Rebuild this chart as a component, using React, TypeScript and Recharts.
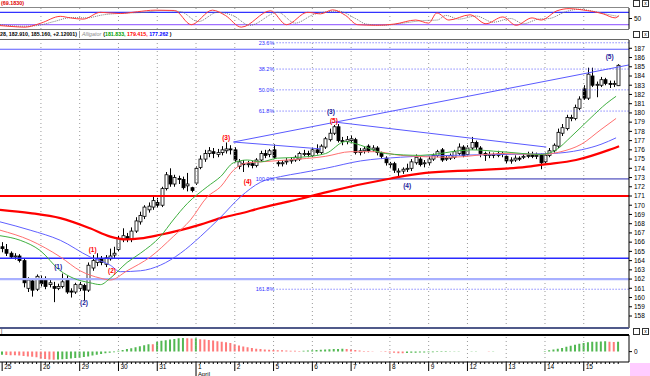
import React from "react";
import {
  ComposedChart,
  LineChart,
  Line,
  Bar,
  Cell,
  XAxis,
  YAxis,
  ReferenceLine,
  ReferenceDot,
} from "recharts";

// ---- data ----

const DAY_LABELS = ["25", "26", "29", "30", "31", "1", "2", "5", "6", "7", "8", "9", "12", "13", "14", "15"];
const MONTH_LABELS = ["", "", "", "", "", "April", "", "", "", "", "", "", "", "", "", ""];
const BARS_PER_DAY = 9;

// [open, high, low, close], 9 bars per day
const CANDLES: number[][] = [
  // 25
  [165.5, 166.0, 164.9, 165.3], [165.2, 165.8, 164.5, 164.8], [164.8, 165.0, 164.2, 164.4],
  [164.4, 164.8, 164.1, 164.5], [164.5, 164.7, 163.8, 164.0], [164.0, 164.2, 161.1, 161.6],
  [161.0, 162.2, 160.6, 161.9], [161.8, 162.0, 160.1, 160.8], [160.9, 162.5, 160.7, 162.3],
  // 26
  [162.0, 162.4, 161.2, 161.5], [162.0, 162.3, 160.9, 161.2], [161.4, 161.9, 161.1, 161.6],
  [161.2, 161.7, 159.5, 161.0], [161.0, 161.5, 160.8, 161.2], [161.2, 162.6, 161.0, 161.7],
  [161.9, 162.4, 160.4, 160.6], [160.7, 161.0, 160.0, 160.6], [160.6, 161.6, 160.4, 161.4],
  // 29
  [161.0, 161.7, 160.7, 161.4], [161.3, 161.5, 159.7, 160.8], [160.8, 163.8, 160.6, 163.5],
  [163.2, 164.6, 162.9, 164.0], [163.8, 164.8, 163.4, 164.2], [164.2, 164.5, 163.5, 163.8],
  [163.6, 164.6, 163.3, 164.3], [164.2, 165.3, 164.0, 164.5], [164.6, 165.5, 164.3, 164.8],
  // 30
  [165.2, 166.7, 165.0, 166.4], [166.3, 167.5, 166.0, 166.7], [166.6, 167.0, 166.0, 166.3],
  [166.3, 167.6, 166.0, 167.2], [167.2, 168.7, 167.0, 168.3], [168.2, 169.3, 167.9, 168.9],
  [168.8, 170.0, 168.5, 169.8], [169.5, 170.3, 169.2, 169.9], [169.8, 171.0, 169.5, 170.5],
  // 31
  [170.3, 170.8, 169.7, 170.0], [170.0, 172.0, 169.8, 171.8], [171.8, 173.6, 171.6, 173.3],
  [173.2, 174.0, 172.0, 172.3], [172.3, 173.3, 172.0, 173.0], [172.9, 173.2, 172.3, 172.8],
  [172.8, 173.1, 171.7, 171.9], [172.1, 173.5, 171.5, 172.3], [171.9, 172.0, 171.4, 171.6],
  // 1 April
  [172.4, 174.2, 172.2, 174.0], [174.1, 175.4, 173.9, 175.0], [175.0, 176.0, 174.7, 175.6],
  [175.6, 176.3, 175.2, 175.9], [175.8, 176.2, 175.1, 175.6], [175.5, 176.1, 175.2, 175.7],
  [175.7, 176.4, 175.4, 176.0], [175.9, 176.8, 175.6, 176.1], [176.1, 176.5, 175.5, 176.0],
  // 2
  [176.0, 176.3, 174.7, 174.9], [174.2, 175.0, 173.9, 174.7], [174.5, 174.9, 173.6, 174.4],
  [174.4, 174.8, 174.1, 174.5], [174.5, 174.8, 174.0, 174.3], [174.3, 175.1, 174.1, 174.9],
  [174.9, 175.9, 174.7, 175.6], [175.6, 176.0, 175.1, 175.4], [175.5, 176.1, 175.2, 175.9],
  // 5
  [176.0, 176.6, 175.0, 175.2], [174.6, 174.9, 174.2, 174.5], [174.5, 174.9, 174.2, 174.6],
  [174.7, 175.1, 174.4, 174.8], [174.8, 175.2, 174.5, 174.9], [174.9, 175.4, 174.7, 175.2],
  [175.0, 175.8, 174.8, 175.6], [175.5, 176.0, 175.3, 175.6], [175.6, 175.9, 175.2, 175.5],
  // 6
  [175.4, 176.3, 175.2, 176.0], [176.0, 176.6, 175.5, 175.7], [175.7, 176.6, 175.5, 176.4],
  [176.3, 177.4, 176.1, 177.2], [177.1, 178.3, 176.9, 177.8], [177.8, 178.7, 177.6, 178.5],
  [178.5, 178.8, 176.8, 177.0], [177.0, 177.4, 176.5, 176.9], [176.9, 177.5, 176.6, 177.1],
  // 7
  [177.0, 177.6, 176.7, 177.2], [177.1, 177.3, 175.5, 175.7], [175.7, 176.2, 175.4, 175.9],
  [175.9, 176.4, 175.6, 176.1], [176.4, 176.6, 175.7, 175.9], [176.0, 176.5, 175.8, 176.2],
  [176.2, 176.4, 175.4, 175.7], [175.6, 175.8, 175.0, 175.3], [175.1, 175.3, 174.3, 174.6],
  // 8
  [174.4, 174.7, 174.0, 174.5], [174.5, 174.7, 173.5, 173.8], [173.6, 174.0, 173.1, 173.7],
  [173.7, 174.1, 173.4, 173.9], [173.9, 174.5, 173.6, 174.0], [174.0, 175.0, 173.7, 174.7],
  [174.6, 175.5, 174.4, 175.2], [175.0, 175.2, 174.2, 174.4], [174.5, 174.9, 174.1, 174.6],
  // 9
  [174.6, 175.3, 174.3, 175.0], [175.0, 175.6, 174.8, 175.4], [175.4, 176.0, 175.2, 175.8],
  [176.0, 176.2, 174.7, 174.9], [175.0, 175.4, 174.8, 175.1], [175.1, 175.6, 174.9, 175.4],
  [175.2, 176.0, 175.0, 175.8], [175.6, 176.7, 175.4, 176.3], [176.3, 176.5, 175.2, 175.4],
  // 12
  [175.5, 176.5, 175.3, 176.2], [176.2, 177.4, 176.0, 176.8], [176.8, 177.0, 176.0, 176.3],
  [176.2, 176.4, 175.2, 175.6], [175.6, 175.8, 174.8, 175.4], [175.4, 175.8, 175.1, 175.5],
  [175.5, 175.7, 175.1, 175.4], [175.4, 175.9, 175.2, 175.6], [175.6, 175.8, 175.2, 175.5],
  // 13
  [175.3, 175.5, 174.5, 174.8], [174.8, 175.2, 174.5, 174.9], [174.9, 175.4, 174.7, 175.1],
  [175.1, 175.3, 174.8, 175.0], [175.2, 175.6, 175.0, 175.3], [175.3, 175.8, 175.1, 175.4],
  [175.4, 175.8, 175.1, 175.3], [175.3, 175.7, 175.0, 175.4], [175.4, 175.6, 173.9, 174.6],
  // 14
  [174.7, 175.7, 174.5, 175.4], [175.4, 176.2, 175.2, 175.9], [175.9, 176.7, 175.7, 176.5],
  [176.4, 178.3, 176.2, 177.9], [177.8, 178.8, 177.5, 178.4], [178.3, 179.8, 178.1, 179.5],
  [179.4, 179.8, 179.1, 179.5], [179.4, 180.9, 179.2, 180.6], [180.5, 181.8, 180.3, 181.5],
  // 15
  [182.6, 183.0, 181.4, 181.6], [181.6, 184.9, 181.4, 184.2], [184.0, 184.9, 182.8, 183.0],
  [183.0, 183.4, 181.7, 183.1], [183.0, 183.9, 182.8, 183.6], [183.6, 183.8, 183.0, 183.2],
  [183.2, 183.5, 182.7, 183.1], [183.1, 183.5, 182.8, 183.2], [182.95, 185.28, 182.91, 185.16],
];

// moving averages: [bar, price]
const LIPS = [
  [-0.5, 166.7], [4.2, 166.2], [8.8, 165.1], [13.5, 162.9], [16.5, 162.1], [20.4, 161.6],
  [22.8, 161.4], [25.1, 162.1], [29, 163.8], [32.1, 164.8], [36.7, 166.6], [39.7, 168.4],
  [43, 170.2], [47.6, 172.0], [50.7, 173.1], [53.7, 174.6], [56.9, 174.9], [60, 174.7],
  [63.9, 175.1], [69.3, 175.2], [75.1, 175.6], [79.7, 176.9], [83.2, 176.5], [89, 175.6],
  [97.2, 175.4], [108.8, 176.0], [115.8, 175.8], [125.1, 175.5], [128.6, 176.0],
  [132, 177.4], [136.7, 179.5], [140.2, 181.0], [142.5, 181.8],
];
const TEETH = [
  [-0.5, 167.3], [6.5, 166.2], [13.5, 164.4], [18.1, 162.9], [22.8, 162.1], [25.1, 161.9],
  [29, 162.9], [34.4, 164.4], [39.7, 166.6], [43.7, 168.4], [47.6, 170.9], [50.7, 172.0],
  [53.7, 173.8], [56.9, 174.6], [60, 174.7], [66.2, 174.9], [75.1, 175.3], [80.9, 175.8],
  [86.7, 175.8], [92.5, 175.4], [104.2, 175.2], [115.8, 175.6], [125.1, 175.5],
  [129.7, 175.8], [134.4, 176.6], [139, 178.2], [142.5, 179.4],
];
const JAW = [
  [-0.5, 168.2], [6.5, 167.3], [13.5, 166.2], [20.4, 164.4], [25.1, 163.5], [27.4, 162.8],
  [32.1, 162.9], [36.7, 163.5], [41.4, 164.8], [46, 166.6], [50.7, 168.7], [55.3, 170.9],
  [60, 172.5], [64.6, 173.1], [69.3, 173.5], [75.1, 174.0], [83.2, 174.8], [92.5, 175.2],
  [104.2, 175.4], [115.8, 175.5], [127.4, 175.6], [134.4, 176.0], [139, 176.6], [142.5, 177.3],
];
const SLOW_MA = [
  [-0.5, 169.5], [6.5, 169.15], [13.5, 168.6], [20.4, 167.5], [25.1, 166.6], [28.6, 166.3],
  [32.1, 166.4], [36.7, 166.8], [41.4, 167.3], [46, 167.9], [50.7, 168.6], [55.3, 169.1],
  [60, 169.7], [64.6, 170.2], [69.3, 170.7], [75.1, 171.4], [90.2, 172.9], [98.3, 173.5],
  [110, 173.8], [121.6, 174.15], [125.5, 174.4], [133.2, 174.9], [140.9, 176.0], [143.2, 176.4],
];

// oscillator (top pane): [bar, value]
const OSC_FAST = [
  [-0.5, 27], [2.3, 24], [5.3, 22], [9, 35], [13.5, 57], [15.8, 52], [18.8, 48], [22.8, 70],
  [27.4, 66], [31.4, 72], [35.5, 77], [40, 76], [43.9, 30], [48.8, 77], [51.8, 60], [55.5, 22],
  [62.3, 75], [66, 30], [70.9, 70], [73.9, 65], [76.7, 78], [79.7, 60], [82.5, 30], [86.7, 28],
  [91.1, 32], [96, 45], [99, 35], [100.9, 68], [103.7, 45], [108.6, 62], [112.3, 33],
  [116.2, 55], [119.3, 28], [123, 52], [125.1, 45], [128.8, 75], [131.6, 82], [134.6, 78],
  [139.5, 65], [142.3, 52], [143.2, 60],
];
const OSC_SLOW = [
  [-0.5, 30], [4.5, 25], [8, 27], [12, 40], [16, 53], [19.5, 52], [23.5, 62], [28, 67],
  [33, 70], [37, 76], [41.5, 72], [45.5, 40], [50, 70], [53.5, 60], [57.5, 28], [64, 70],
  [68, 35], [72.5, 64], [78, 74], [82, 50], [84.5, 32], [88.5, 28], [93, 35], [97.5, 43],
  [101, 45], [103, 60], [106, 48], [110, 58], [114, 38], [118, 50], [121, 33], [124.5, 48],
  [127, 50], [131, 73], [134, 80], [137, 74], [141, 62], [143.2, 56],
];

// histogram (bottom pane), one value per bar
const AO = [
  -3.0, -3.2, -3.5, -3.6, -3.8, -4.2, -4.6, -5.0, -5.4,
  -6.8, -7.2, -7.6, -7.8, -7.6, -7.3, -7.0, -6.6, -6.2,
  -5.8, -5.2, -4.6, -3.8, -3.0, -2.2, -1.6, -1.0, -0.6,
  0.8, 1.6, 2.4, 3.2, 4.2, 5.2, 6.2, 7.2, 7.0,
  9.6, 10.4, 11.0, 11.6, 12.2, 12.8, 13.0, 12.8, 12.6,
  12.9, 12.0, 11.6, 11.2, 10.6, 10.0, 9.6, 9.0, 8.2,
  7.0, 6.0, 5.0, 4.2, 3.4, 2.8, 2.4, 2.0, 1.8,
  1.6, 1.4, 1.2, 1.0, 0.9, 0.8, 0.7, 0.8, 1.0,
  1.2, 1.5, 1.8, 2.0, 2.2, 2.4, 2.6, 2.8, 2.6,
  2.0, 1.5, 1.0, 0.7, 0.5, 0.3, 0.1, -0.1, -0.3,
  -0.8, -1.2, -1.5, -1.6, -1.4, -1.2, -1.0, -0.9, -0.8,
  -0.6, -0.5, -0.4, -0.3, -0.3, -0.2, -0.2, -0.1, 0.1,
  0.2, 0.3, 0.3, 0.2, 0.1, -0.1, -0.1, 0.1, 0.2,
  0.1, 0.1, 0.2, 0.1, 0.1, 0.2, 0.1, 0.2, 0.1,
  0.6, 1.2, 2.0, 2.8, 3.6, 4.6, 5.6, 6.6, 7.6,
  8.4, 9.0, 9.4, 9.6, 9.8, 10.0, 9.5, 9.3, 9.6,
];

const PRICE_TICKS = [158, 159, 160, 161, 162, 163, 164, 165, 166, 167, 168, 169, 170, 171, 172,
  173, 174, 175, 176, 177, 178, 179, 180, 181, 182, 183, 184, 185, 186, 187];

const FIB_LEVELS = [187.6, 184.75, 182.5, 180.2, 172.85, 160.9];
const FIB_LABELS = ["23.6%", "38.2%", "50.0%", "61.8%", "100.0%", "161.8%"];

const SUPPORT_RED = 171.0;
const SUPPORT_BLUE = 164.25;
const SUPPORT_LIGHT = 162.0;
const TOP_BLUE = 186.9;

// wave counts
const WAVES = [
  { text: "(1)", bar: 13, price: 163.3, major: true },
  { text: "(2)", bar: 19, price: 159.4, major: true },
  { text: "(1)", bar: 21, price: 165.15, major: false },
  { text: "(2)", bar: 25.5, price: 162.9, major: false },
  { text: "(3)", bar: 52, price: 177.3, major: false },
  { text: "(4)", bar: 57, price: 172.5, major: false },
  { text: "(3)", bar: 76.3, price: 180.1, major: true },
  { text: "(5)", bar: 77, price: 179.2, major: false },
  { text: "(4)", bar: 94, price: 172.1, major: true },
  { text: "(5)", bar: 141, price: 186.05, major: true },
];

// trend lines: [bar1, price1, bar2, price2]
const TRENDS = [
  [53.7, 176.85, 145.5, 185.2],
  [53.7, 176.85, 74, 176.1],
  [77.4, 179.0, 126.3, 176.3],
];

// ---- layout ----
const FONT = "'Liberation Sans', Arial, sans-serif";
const X_DOMAIN: [number, number] = [-0.5, 145.5];
const DAY_STARTS = DAY_LABELS.map((_, d) => d * BARS_PER_DAY);
const FIB_START = 63.7;

const candleData = CANDLES.map(([o, h, l, c], i) => ({ i, range: [l, h], ohlc: [o, h, l, c] }));
const pts = (arr: number[][]) => arr.map(([i, v]) => ({ i, v }));
const aoData = AO.map((v, i) => ({ i, v }));

const Candle = (props: any) => {
  const { x, y, width, height, payload } = props;
  if (!payload) return null;
  const [o, h, l, c] = payload.ohlc;
  const top = Math.min(y, y + height);
  const hh = Math.abs(height);
  const k = hh / (h - l);
  const yO = top + (h - o) * k;
  const yC = top + (h - c) * k;
  const cx = Math.round(x + width / 2) + 0.5;
  const bTop = Math.min(yO, yC);
  const bH = Math.max(1, Math.abs(yO - yC));
  const up = c >= o;
  return (
    <g>
      <line x1={cx} x2={cx} y1={top} y2={top + hh} stroke="#000" strokeWidth={1} />
      <rect x={cx - 1.5} y={bTop} width={3} height={bH} fill={up ? "#fff" : "#000"} stroke="#000" strokeWidth={0.8} />
    </g>
  );
};

const DateTick = (props: any) => {
  const { x, y, payload } = props;
  const i = payload.value;
  if (i % BARS_PER_DAY === 0) {
    const d = i / BARS_PER_DAY;
    return (
      <g>
        <line x1={x} x2={x} y1={y} y2={y + 9} stroke="#000" strokeWidth={1} />
        <text x={x + 2} y={y + 7} fontSize={6.5} fontFamily={FONT} fill="#000">{DAY_LABELS[d]}</text>
        {MONTH_LABELS[d] && (
          <>
            <line x1={x} x2={x} y1={y + 9} y2={y + 14} stroke="#000" strokeWidth={1} />
            <text x={x + 2} y={y + 13.5} fontSize={6} fontFamily={FONT} fill="#000">{MONTH_LABELS[d]}</text>
          </>
        )}
      </g>
    );
  }
  return <line x1={x} x2={x} y1={y} y2={y + 2} stroke="#000" strokeWidth={1} />;
};

const abs = (top: number, left = 0): React.CSSProperties => ({ position: "absolute", top, left });

const Icons = ({ top }: { top: number }) => (
  <div style={{ ...abs(top, 633), display: "flex", gap: 2 }}>
    <div style={{ width: 5, height: 5, border: "1px solid #333", background: "#fff" }} />
    <div style={{ width: 5, height: 5, border: "1px solid #333", background: "#fff", fontSize: 5, lineHeight: "5px", textAlign: "center", fontFamily: FONT }}>x</div>
  </div>
);

const dayLines = (color = "#9a9a9a") =>
  DAY_STARTS.slice(1).map((d) => (
    <ReferenceLine key={"d" + d} x={d} stroke={color} strokeDasharray="1 3" />
  ));

export default function App() {
  const axisTick = { fontSize: 6.5, fill: "#000", fontFamily: FONT };
  return (
    <div style={{ position: "absolute", left: 0, top: 0, width: 650, height: 376, background: "#fff", overflow: "hidden", fontFamily: FONT }}>
      {/* top pane header */}
      <div style={{ ...abs(0, 1), fontSize: 5.4, fontWeight: 700, color: "#e00000", lineHeight: "7px" }}>(69.1830)</div>
      <Icons top={0} />
      <div style={{ ...abs(7, 0), width: 629, height: 1, background: "#888" }} />

      {/* oscillator pane */}
      <div style={abs(8, 0)}>
        <LineChart width={650} height={21} margin={{ top: 0, right: 0, bottom: 0, left: 0 }}>
          <XAxis type="number" dataKey="i" domain={X_DOMAIN} hide allowDataOverflow />
          <YAxis orientation="right" width={21} domain={[16, 84]} ticks={[50]} tick={axisTick}
            tickSize={3} tickMargin={2} axisLine={{ stroke: "#000" }} tickLine={{ stroke: "#000" }} />
          {dayLines()}
          <ReferenceLine y={70} stroke="#3333ff" strokeWidth={1.2} />
          <ReferenceLine y={30} stroke="#a070ff" strokeWidth={1.2} />
          <Line data={pts(OSC_SLOW)} dataKey="v" type="monotone" stroke="#777" strokeWidth={1}
            strokeDasharray="1 1" dot={false} isAnimationActive={false} />
          <Line data={pts(OSC_FAST)} dataKey="v" type="monotone" stroke="#ff3a3a" strokeWidth={1}
            dot={false} isAnimationActive={false} />
        </LineChart>
      </div>

      {/* main pane header */}
      <div style={{ ...abs(29, 0), width: 629, height: 1, background: "#777" }} />
      <div style={{ ...abs(31, 0), fontSize: 5.3, fontWeight: 700, lineHeight: "7px", whiteSpace: "nowrap", display: "flex" }}>
        <span style={{ color: "#000" }}>28, 182.910, 185.160, +2.12001)</span>
        <span style={{ width: 1, height: 7, background: "#999", margin: "0 2px" }} />
        <span style={{ color: "#888", fontStyle: "italic", fontWeight: 400 }}>Alligator</span>
        <span style={{ color: "#000", marginLeft: 2 }}>(</span>
        <span style={{ color: "#00a000" }}>181.833,&nbsp;</span>
        <span style={{ color: "#ff0000" }}>179.415,&nbsp;</span>
        <span style={{ color: "#0000ff" }}>177.262</span>
        <span style={{ color: "#000" }}>&nbsp;)</span>
      </div>
      <Icons top={31} />
      <div style={{ ...abs(39, 0), width: 629, height: 1, background: "#666" }} />

      {/* price pane */}
      <div style={abs(40, 0)}>
        <ComposedChart width={650} height={288} data={candleData} margin={{ top: 0, right: 0, bottom: 0, left: 0 }}>
          <XAxis type="number" dataKey="i" domain={X_DOMAIN} hide allowDataOverflow />
          <YAxis orientation="right" width={21} domain={[156.7, 187.9]} ticks={PRICE_TICKS}
            interval={0} tick={axisTick} tickSize={3} tickMargin={2} allowDataOverflow
            axisLine={{ stroke: "#000" }} tickLine={{ stroke: "#000" }} />
          {dayLines()}
          <ReferenceLine y={TOP_BLUE} stroke="#5a5aff" strokeWidth={1.2} />
          <ReferenceLine y={SUPPORT_RED} stroke="#ff0000" strokeWidth={2.2} />
          <ReferenceLine y={SUPPORT_BLUE} stroke="#2a2aff" strokeWidth={1.4} />
          <ReferenceLine y={SUPPORT_LIGHT} stroke="#a8b0ff" strokeWidth={2.2} />
          {FIB_LEVELS.map((lv, k) => (
            <ReferenceLine key={"f" + k}
              segment={[{ x: FIB_START, y: lv }, { x: X_DOMAIN[1], y: lv }]}
              stroke={FIB_LABELS[k] === "100.0%" ? "#2a2ab0" : "#5050ff"}
              strokeWidth={1}
              strokeDasharray={FIB_LABELS[k] === "100.0%" ? undefined : "1 2"} />
          ))}
          {FIB_LEVELS.map((lv, k) => (
            <ReferenceDot key={"fl" + k} x={FIB_START - 0.3} y={lv} r={0} stroke="none" fill="none"
              label={{ value: FIB_LABELS[k], position: "left", offset: 1, fontSize: 5.5, fill: "#3030ff", fontFamily: FONT }} />
          ))}
          {TRENDS.map(([x1, y1, x2, y2], k) => (
            <ReferenceLine key={"t" + k} segment={[{ x: x1, y: y1 }, { x: x2, y: y2 }]} stroke="#5a5aff" strokeWidth={1} />
          ))}
          <Line data={pts(SLOW_MA)} dataKey="v" type="monotone" stroke="#ff0000" strokeWidth={2.2}
            dot={false} isAnimationActive={false} />
          <Line data={pts(JAW)} dataKey="v" type="monotone" stroke="#6060ff" strokeWidth={1}
            dot={false} isAnimationActive={false} />
          <Line data={pts(TEETH)} dataKey="v" type="monotone" stroke="#ff7070" strokeWidth={1}
            dot={false} isAnimationActive={false} />
          <Line data={pts(LIPS)} dataKey="v" type="monotone" stroke="#40b040" strokeWidth={1}
            dot={false} isAnimationActive={false} />
          <Bar dataKey="range" barSize={3} shape={<Candle />} isAnimationActive={false} />
          {WAVES.map((w, k) => (
            <ReferenceDot key={"w" + k} x={w.bar} y={w.price} r={0} stroke="none" fill="none"
              label={{ value: w.text, position: "center", fontSize: 6.5, fontWeight: 700,
                fill: w.major ? "#1a1a9a" : "#ff0000", fontFamily: FONT }} />
          ))}
        </ComposedChart>
      </div>

      {/* separator */}
      <div style={{ ...abs(327, 0), width: 629, height: 2, background: "#505a8a" }} />
      <div style={{ ...abs(329, 1), fontSize: 5, lineHeight: "5px", color: "#000" }}>|</div>
      <Icons top={328} />
      <div style={{ ...abs(334, 0), width: 629, height: 1.5, background: "#000" }} />

      {/* histogram pane + date axis */}
      <div style={abs(335, 0)}>
        <ComposedChart width={650} height={41} data={aoData} margin={{ top: 0, right: 0, bottom: 0, left: 0 }}>
          <XAxis type="number" dataKey="i" domain={X_DOMAIN} allowDataOverflow height={14}
            ticks={CANDLES.map((_, i) => i)} interval={0} tick={<DateTick />} tickLine={false}
            tickSize={0} tickMargin={0} axisLine={{ stroke: "#000" }} />
          <YAxis orientation="right" width={21} domain={[-10, 16]} ticks={[0]} tick={axisTick}
            tickSize={3} tickMargin={2} axisLine={{ stroke: "#000" }} tickLine={{ stroke: "#000" }} />
          {dayLines()}
          <Bar dataKey="v" barSize={2} isAnimationActive={false}>
            {AO.map((v, i) => (
              <Cell key={i} fill={i > 0 && v < AO[i - 1] ? "#ff7a7a" : "#52b852"} />
            ))}
          </Bar>
        </ComposedChart>
      </div>
      <div style={{ ...abs(363, 630), width: 20, height: 13, background: "#ffccff" }} />
    </div>
  );
}
